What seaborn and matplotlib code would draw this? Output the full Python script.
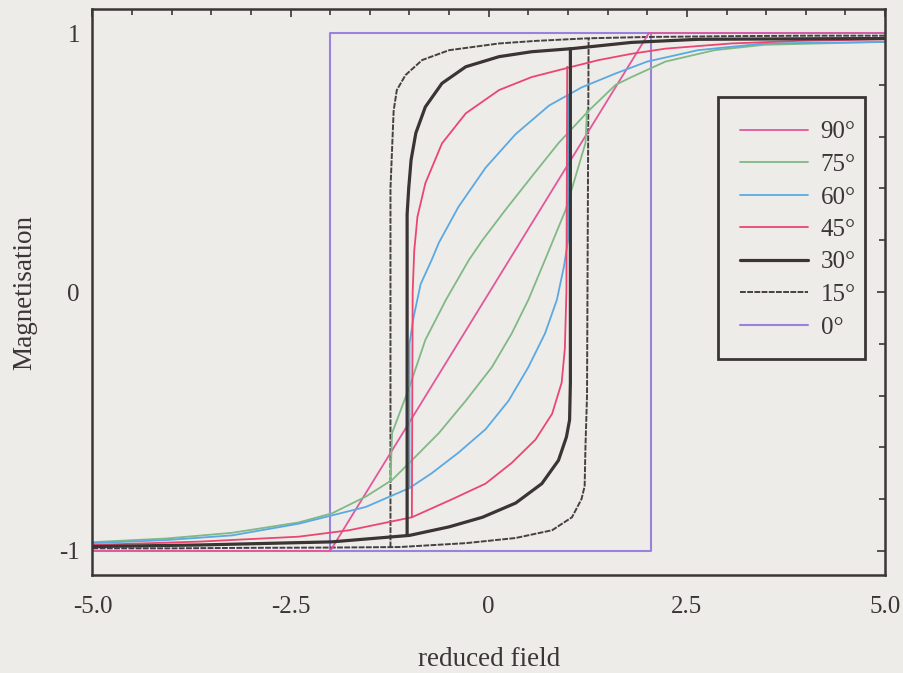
import matplotlib
matplotlib.use("Agg")
import matplotlib.pyplot as plt
from matplotlib.lines import Line2D
from matplotlib.patches import Rectangle
from matplotlib.ticker import MultipleLocator, FixedLocator, FixedFormatter
import seaborn as sns

# Hysteresis loops, magnetisation vs reduced field, for several field angles.
# Each loop: "up" branch swept from +5 downwards, "lo" branch swept from -5 upwards.

angles = ["90°", "75°", "60°", "45°", "30°", "15°", "0°"]

h90 = [-5.0, -2.0, 2.02, 5.0]
m90 = [-1.0, -1.0, 1.0, 1.0]

up75_h = [5.0, 3.48, 2.85, 2.23, 1.8, 1.6, 1.26, 0.88, 0.54, 0.21, -0.08, -0.25, -0.54, -0.8, -1.0, -1.22, -1.24]
up75_m = [0.966, 0.955, 0.934, 0.89, 0.83, 0.80, 0.70, 0.575, 0.445, 0.317, 0.20, 0.124, -0.03, -0.185, -0.366, -0.545, -0.73]
lo75_h = [-5.0, -4.07, -3.24, -2.4, -1.98, -1.55, -1.22, -0.97, -0.63, -0.29, 0.04, 0.29, 0.5, 0.71, 0.97, 1.22, 1.24]
lo75_m = [-0.966, -0.952, -0.93, -0.89, -0.855, -0.79, -0.726, -0.65, -0.545, -0.42, -0.29, -0.16, -0.03, 0.124, 0.317, 0.575, 0.70]

up60_h = [5.0, 3.48, 2.64, 2.0, 1.6, 1.17, 0.76, 0.34, -0.04, -0.38, -0.63, -0.72, -0.86, -0.95, -1.0, -1.0]
up60_m = [0.966, 0.96, 0.934, 0.89, 0.844, 0.79, 0.72, 0.61, 0.48, 0.33, 0.19, 0.124, 0.03, -0.1, -0.2, -0.757]
lo60_h = [-5.0, -4.07, -3.24, -2.4, -1.55, -1.0, -0.72, -0.38, -0.04, 0.25, 0.5, 0.71, 0.86, 0.95, 1.0, 1.0]
lo60_m = [-0.97, -0.958, -0.94, -0.895, -0.83, -0.757, -0.70, -0.62, -0.53, -0.42, -0.29, -0.16, -0.03, 0.1, 0.2, 0.757]

up45_h = [5.0, 3.9, 3.06, 2.23, 1.8, 1.39, 1.05, 0.54, 0.13, -0.29, -0.59, -0.8, -0.9, -0.94, -0.96, -0.97]
up45_m = [0.976, 0.97, 0.96, 0.94, 0.92, 0.896, 0.87, 0.83, 0.78, 0.69, 0.574, 0.42, 0.29, 0.16, 0.0, -0.87]
lo45_h = [-5.0, -3.65, -2.4, -1.76, -0.97, -0.46, -0.04, 0.29, 0.59, 0.8, 0.92, 0.96, 0.98, 0.99]
lo45_m = [-0.977, -0.964, -0.945, -0.92, -0.87, -0.80, -0.74, -0.66, -0.57, -0.47, -0.35, -0.22, 0.0, 0.87]

up30_h = [5.0, 4.0, 2.64, 1.8, 1.05, 0.54, 0.13, -0.29, -0.59, -0.8, -0.92, -0.98, -1.01, -1.03, -1.03]
up30_m = [0.979, 0.978, 0.976, 0.964, 0.94, 0.928, 0.909, 0.87, 0.806, 0.715, 0.614, 0.51, 0.40, 0.30, -0.94]
lo30_h = [-5.0, -3.65, -1.98, -1.0, -0.5, -0.08, 0.34, 0.67, 0.88, 0.98, 1.02, 1.03, 1.03]
lo30_m = [-0.983, -0.977, -0.965, -0.94, -0.907, -0.87, -0.815, -0.74, -0.65, -0.56, -0.494, -0.35, 0.94]

up15_h = [5.0, 4.0, 3.0, 2.0, 1.26, 0.6, 0.13, -0.5, -0.84, -1.05, -1.16, -1.2, -1.22, -1.24, -1.24]
up15_m = [0.99, 0.99, 0.988, 0.985, 0.98, 0.97, 0.96, 0.934, 0.896, 0.838, 0.78, 0.70, 0.55, 0.40, -0.985]
lo15_h = [-5.0, -4.0, -3.0, -2.0, -1.13, -0.29, 0.34, 0.8, 1.05, 1.17, 1.21, 1.22, 1.24, 1.26]
lo15_m = [-0.99, -0.99, -0.988, -0.987, -0.985, -0.97, -0.95, -0.92, -0.87, -0.80, -0.75, -0.6, -0.4, 0.98]

up0_h = [5.0, -2.0, -2.0]
up0_m = [1.0, 1.0, -1.0]
lo0_h = [-5.0, 2.05, 2.05]
lo0_m = [-1.0, -1.0, 1.0]

x_ticks = [-5.0, -2.5, 0.0, 2.5, 5.0]
x_tick_labels = ["-5.0", "-2.5", "0", "2.5", "5.0"]
y_ticks = [-1.0, 0.0, 1.0]
y_tick_labels = ["-1", "0", "1"]

styles = {
    "90°": dict(color="#e2579c", lw=1.3, ls="-"),
    "75°": dict(color="#80b984", lw=1.3, ls="-"),
    "60°": dict(color="#5aa9e2", lw=1.3, ls="-"),
    "45°": dict(color="#ea4670", lw=1.3, ls="-"),
    "30°": dict(color="#3a3434", lw=2.3, ls="-"),
    "15°": dict(color="#464141", lw=1.4, ls=(0, (3.0, 0.7))),
    "0°": dict(color="#9a82dc", lw=1.5, ls="-"),
}

curves = {
    "90°": [(h90, m90)],
    "75°": [(up75_h, up75_m), (lo75_h, lo75_m)],
    "60°": [(up60_h, up60_m), (lo60_h, lo60_m)],
    "45°": [(up45_h, up45_m), (lo45_h, lo45_m)],
    "30°": [(up30_h, up30_m), (lo30_h, lo30_m)],
    "15°": [(up15_h, up15_m), (lo15_h, lo15_m)],
    "0°": [(up0_h, up0_m), (lo0_h, lo0_m)],
}

sns.set_theme(style="white")
bg = "#eeece9"
ink = "#3a3636"
plt.rcParams["font.family"] = ["Liberation Serif", "DejaVu Serif"]
plt.rcParams["axes.unicode_minus"] = False

W, H = 904, 673
fig = plt.figure(figsize=(W / 100, H / 100), dpi=100, facecolor=bg)
ax = fig.add_axes([0.1023, 0.1456, 0.8767, 0.8410], facecolor=bg)

for name in ["0°", "15°", "90°", "75°", "60°", "45°", "30°"]:
    st = styles[name]
    for hs, ms in curves[name]:
        sns.lineplot(x=hs, y=ms, sort=False, estimator=None, ax=ax,
                     color=st["color"], linewidth=st["lw"], linestyle=st["ls"])

ax.set_xlim(-5.0, 5.0)
ax.set_ylim(-1.093, 1.093)

ax.xaxis.set_major_locator(FixedLocator(x_ticks))
ax.xaxis.set_major_formatter(FixedFormatter(x_tick_labels))
ax.xaxis.set_minor_locator(MultipleLocator(0.5))
ax.yaxis.set_major_locator(FixedLocator(y_ticks))
ax.yaxis.set_major_formatter(FixedFormatter(y_tick_labels))
ax.yaxis.set_minor_locator(MultipleLocator(0.2))

ax.tick_params(which="both", direction="in", top=True, right=True,
               color=ink, width=1.2)
ax.tick_params(which="major", length=6)
ax.tick_params(which="minor", length=4)
ax.tick_params(axis="x", which="major", labelsize=18, labelcolor=ink, pad=15)
ax.tick_params(axis="y", which="major", labelsize=18, labelcolor=ink, pad=9)

for sp in ax.spines.values():
    sp.set_color(ink)
    sp.set_linewidth(1.8)

ax.set_xlabel("reduced field", fontsize=19.5, color=ink, labelpad=21)
ax.set_ylabel("Magnetisation", fontsize=19.5, color=ink, labelpad=16)

# legend entries without their own frame; a separate box is drawn around them
handles = [Line2D([0], [0], color=styles[n]["color"], lw=styles[n]["lw"],
                  ls=styles[n]["ls"]) for n in angles]
leg = ax.legend(handles, angles, loc="upper left",
                bbox_to_anchor=(740 / W, 1 - 121 / H), bbox_transform=fig.transFigure,
                fontsize=18, frameon=False,
                handlelength=2.7, handletextpad=0.52, labelspacing=0.40,
                borderpad=0.0, borderaxespad=0.0, labelcolor=ink)
box = Rectangle((718 / W, 1 - 359 / H), 147 / W, 262 / H, transform=fig.transFigure,
                facecolor="none", edgecolor=ink, linewidth=2.0, zorder=5, clip_on=False)
fig.add_artist(box)

fig.savefig("out.png", dpi=100, facecolor=bg)
